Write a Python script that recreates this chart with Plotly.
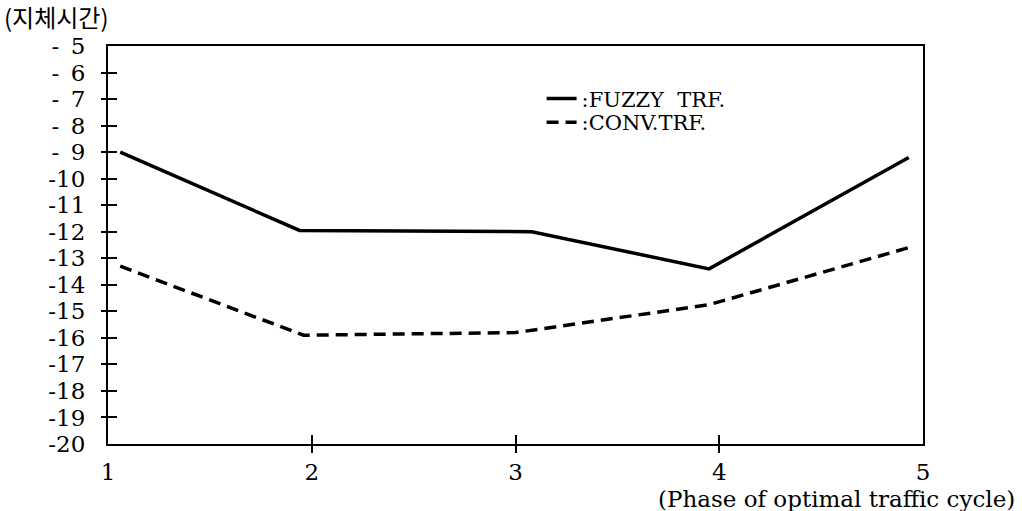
import plotly.graph_objects as go

# ---- data ----
phase_ticks = [1, 2, 3, 4, 5]
phase_labels = ["1", "2", "3", "4", "5"]
delay_ticks = [-5, -6, -7, -8, -9, -10, -11, -12, -13, -14, -15, -16, -17, -18, -19, -20]
delay_labels = ["-\u20025", "-\u20026", "-\u20027", "-\u20028", "-\u20029", "-10", "-11", "-12",
                "-13", "-14", "-15", "-16", "-17", "-18", "-19", "-20"]

fuzzy_x = [1.06, 1.94, 3.08, 3.95, 4.93]
fuzzy_y = [-9.0, -11.95, -12.0, -13.4, -9.2]
conv_x = [1.06, 1.96, 3.0, 3.95, 4.93]
conv_y = [-13.3, -15.9, -15.8, -14.75, -12.6]

FONT = "DejaVu Serif"

fig = go.Figure()
fig.add_trace(go.Scatter(x=fuzzy_x, y=fuzzy_y, mode="lines", name=":FUZZY  TRF.",
                         legend="legend",
                         line=dict(color="black", width=3.5)))
fig.add_trace(go.Scatter(x=conv_x, y=conv_y, mode="lines", name=":CONV.TRF.",
                         legend="legend2",
                         line=dict(color="black", width=3.5, dash="12px,7px")))
# empty traces so the tick-only overlay axes get drawn
for xa, ya in [("x2", "y"), ("x3", "y"), ("x", "y2"), ("x", "y3")]:
    fig.add_trace(go.Scatter(x=[None], y=[None], xaxis=xa, yaxis=ya, showlegend=False,
                             hoverinfo="skip"))

inner_x = [v for v in phase_ticks if v not in (1, 5)]
inner_y = [v for v in delay_ticks if v not in (-5, -20)]

cx = dict(range=[1, 5], showgrid=False, zeroline=False, automargin=False)
cy = dict(range=[-20, -5], showgrid=False, zeroline=False, automargin=False)
tk = dict(showline=False, tickwidth=2, tickcolor="black", showticklabels=False)

fig.update_layout(
    width=1022, height=511,
    margin=dict(l=108, r=99, t=46, b=67, autoexpand=False),
    paper_bgcolor="white", plot_bgcolor="white",
    font=dict(family=FONT, size=23, color="black"),
    xaxis=dict(**cx, showline=True, mirror=True, linecolor="black", linewidth=2,
               tickvals=phase_ticks, ticktext=phase_labels, ticks="",
               ticklabelstandoff=6, tickfont=dict(family=FONT, size=23)),
    yaxis=dict(**cy, showline=True, mirror=True, linecolor="black", linewidth=2,
               tickvals=delay_ticks, ticktext=delay_labels, ticks="",
               ticklabelstandoff=16, tickfont=dict(family=FONT, size=23)),
    xaxis2=dict(**cx, **tk, overlaying="x", anchor="y", side="bottom",
                tickvals=inner_x, ticks="outside", ticklen=8),
    xaxis3=dict(**cx, **tk, overlaying="x", anchor="y", side="bottom",
                tickvals=inner_x, ticks="inside", ticklen=9),
    yaxis2=dict(**cy, **tk, overlaying="y", anchor="x", side="left",
                tickvals=inner_y, ticks="outside", ticklen=6),
    yaxis3=dict(**cy, **tk, overlaying="y", anchor="x", side="left",
                tickvals=inner_y, ticks="inside", ticklen=9),
    legend=dict(x=0.532, y=0.919, xanchor="left", yanchor="top", bgcolor="rgba(0,0,0,0)",
                font=dict(family=FONT, size=21)),
    legend2=dict(x=0.532, y=0.859, xanchor="left", yanchor="top", bgcolor="rgba(0,0,0,0)",
                 font=dict(family=FONT, size=21)),
    showlegend=True,
)

fig.add_annotation(text="(지체시간)", xref="paper", yref="paper", x=-0.13, y=1.074,
                   xanchor="left", yanchor="middle", showarrow=False,
                   font=dict(family="Noto Sans CJK KR", size=24, color="black"))
fig.add_annotation(text="(Phase of optimal traffic cycle)", xref="paper", yref="paper",
                   x=1.115, y=-0.139, xanchor="right", yanchor="middle", showarrow=False,
                   font=dict(family=FONT, size=23, color="black"))

fig.write_html("out.html", post_script="document.body.style.margin='0';",
               config={"displayModeBar": False})
